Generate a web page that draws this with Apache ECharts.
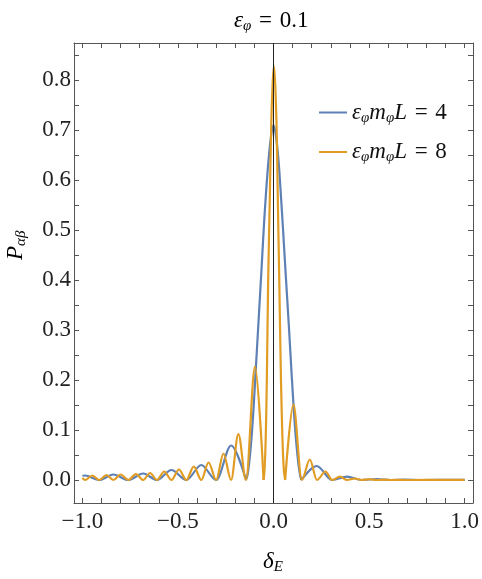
<!DOCTYPE html>
<html>
<head>
<meta charset="utf-8">
<script src="https://cdn.jsdelivr.net/npm/echarts@6/dist/echarts.min.js"></script>
<style>
  html, body { margin: 0; padding: 0; background: #fff; }
  #chart { width: 482px; height: 579px; }
</style>
</head>
<body>
<div id="chart"></div>
<script>
// tick positions
const xLabelValues = [-1, -0.5, 0, 0.5, 1]
const xTickValues = [-1, -0.9, -0.8, -0.7, -0.6, -0.5, -0.4, -0.3, -0.2, -0.1, 0, 0.1, 0.2, 0.3, 0.4, 0.5, 0.6, 0.7, 0.8, 0.9, 1]
const yLabelValues = [0, 0.1, 0.2, 0.3, 0.4, 0.5, 0.6, 0.7, 0.8]
const yTickValues = [0, 0.05, 0.1, 0.15, 0.2, 0.25, 0.3, 0.35, 0.4, 0.45, 0.5, 0.55, 0.6, 0.65, 0.7, 0.75, 0.8, 0.85]

// eps m L = 4 (blue): wave extrema left / right, dense points in the central lobe
const blueLeft = [
  [-1.0, 0.0085], [-0.986, 0.009], [-0.912, 0], [-0.838, 0.011], [-0.760, 0],
  [-0.682, 0.013], [-0.610, 0], [-0.534, 0.020], [-0.456, 0], [-0.378, 0.030],
  [-0.300, 0], [-0.222, 0.069], [-0.144, 0]
]
const blueCore = [
  [-0.144, 0], [-0.136, 0.01], [-0.127, 0.035], [-0.116, 0.08], [-0.105, 0.14],
  [-0.093, 0.22], [-0.078, 0.32], [-0.063, 0.42], [-0.050, 0.51], [-0.040, 0.57],
  [-0.026, 0.64], [-0.012, 0.69], [0, 0.71], [0.012, 0.69], [0.026, 0.64],
  [0.038, 0.573], [0.050, 0.50], [0.064, 0.41], [0.080, 0.31], [0.095, 0.21],
  [0.108, 0.13], [0.120, 0.07], [0.131, 0.03], [0.140, 0.008], [0.146, 0]
]
const blueRight = [
  [0.146, 0], [0.226, 0.028], [0.307, 0], [0.385, 0.0067], [0.460, 0],
  [0.540, 0.002], [0.615, 0], [0.690, 0.0008], [0.770, 0], [1.0, 0.0002]
]

// eps m L = 8 (orange)
const orangeLeft = [
  [-1.0, 0.004], [-0.986, 0], [-0.948, 0.009], [-0.912, 0], [-0.874, 0.010],
  [-0.838, 0], [-0.800, 0.011], [-0.760, 0], [-0.720, 0.012], [-0.682, 0],
  [-0.646, 0.014], [-0.610, 0], [-0.572, 0.017], [-0.534, 0], [-0.495, 0.021],
  [-0.456, 0], [-0.417, 0.027], [-0.378, 0], [-0.340, 0.035], [-0.300, 0],
  [-0.262, 0.053], [-0.222, 0], [-0.184, 0.092], [-0.144, 0], [-0.097, 0.227],
  [-0.052, 0]
]
const orangeCore = [
  [-0.052, 0], [-0.047, 0.02], [-0.041, 0.08], [-0.035, 0.2], [-0.028, 0.4],
  [-0.019, 0.573], [-0.012, 0.707], [-0.005, 0.79], [0.002, 0.828], [0.009, 0.79],
  [0.016, 0.707], [0.022, 0.573], [0.030, 0.40], [0.039, 0.2], [0.047, 0.08],
  [0.054, 0.02], [0.061, 0]
]
const orangeRight = [
  [0.061, 0], [0.104, 0.151], [0.148, 0], [0.190, 0.041], [0.227, 0],
  [0.272, 0.017], [0.307, 0], [0.347, 0.0067], [0.385, 0], [0.425, 0.003],
  [0.460, 0], [0.500, 0.0015], [0.540, 0], [0.580, 0.0008], [0.615, 0],
  [0.655, 0.0004], [0.690, 0], [1.0, 0.0002]
]

const BLUE = '#5E81B5'
const ORANGE = '#E19C24'
const FONT = '"Liberation Serif", "DejaVu Serif", "Times New Roman", serif'
const EQ = '\u2004=\u2004'

const chart = echarts.init(document.getElementById('chart'))

const rich = {
  i: { fontFamily: FONT, fontStyle: 'italic', fontSize: 23, lineHeight: 26, color: '#111' },
  s: { fontFamily: FONT, fontStyle: 'italic', fontSize: 15, lineHeight: 12, verticalAlign: 'bottom', color: '#111' },
  r: { fontFamily: FONT, fontSize: 23, lineHeight: 26, color: '#111' }
}

function fmt(v) {
  const s = Math.abs(v).toFixed(1)
  return v < 0 ? '\u2212' + s : s
}

function wave(name, color, data) {
  return {
    name: name, type: 'line', data: data, symbol: 'none',
    smooth: 0.33, smoothMonotone: 'x',
    lineStyle: { color: color, width: 2.2 }, itemStyle: { color: color },
    z: color === ORANGE ? 3 : 2, silent: true
  }
}

function core(name, color, data) {
  return {
    name: name, type: 'line', data: data, symbol: 'none',
    smooth: 0.3,
    lineStyle: { color: color, width: 2.2 }, itemStyle: { color: color },
    z: color === ORANGE ? 3 : 2, silent: true
  }
}

function xAx(pos, labels) {
  return {
    type: 'value', position: pos, min: -1.044, max: 1.044,
    axisLine: { show: true, onZero: false, lineStyle: { color: '#555', width: 1 } },
    axisTick: { show: true, inside: true, length: 5, customValues: xTickValues, lineStyle: { color: '#555' } },
    axisLabel: {
      show: labels, customValues: xLabelValues, formatter: fmt, margin: 7,
      fontFamily: FONT, fontSize: 23, color: '#222'
    },
    splitLine: { show: false }
  }
}

function yAx(pos, labels) {
  return {
    type: 'value', position: pos, min: -0.046, max: 0.874,
    axisLine: { show: true, onZero: false, lineStyle: { color: '#555', width: 1 } },
    axisTick: { show: true, inside: true, length: 5, customValues: yTickValues, lineStyle: { color: '#555' } },
    axisLabel: {
      show: labels, customValues: yLabelValues, formatter: fmt, margin: 3,
      fontFamily: FONT, fontSize: 23, color: '#222'
    },
    splitLine: { show: false }
  }
}

const series = [
  wave('L4', BLUE, blueLeft), core('L4', BLUE, blueCore), wave('L4', BLUE, blueRight),
  wave('L8', ORANGE, orangeLeft), core('L8', ORANGE, orangeCore), wave('L8', ORANGE, orangeRight)
]
// vertical axis at delta = 0
series[0].markLine = {
  silent: true, symbol: 'none', label: { show: false },
  lineStyle: { color: '#222', width: 1, type: 'solid' },
  data: [{ xAxis: 0 }], z: 10
}

chart.setOption({
  animation: false,
  grid: { left: 74, right: 7, top: 43, bottom: 76 },
  xAxis: [xAx('bottom', true), xAx('top', false)],
  yAxis: [yAx('left', true), yAx('right', false)],
  legend: {
    data: ['L4', 'L8'], orient: 'vertical', left: 319, top: 101, padding: 0,
    icon: 'path://M0,0L28,0L28,2L0,2Z', itemWidth: 28, itemHeight: 2, itemGap: 15,
    formatter: name => '{i|ε}{s|φ}{i|m}{s|φ}{i|L}{r|' + EQ + (name === 'L4' ? '4' : '8') + '}',
    textStyle: { fontFamily: FONT, rich: rich }
  },
  graphic: [
    {
      type: 'text', x: 234, y: 8,
      style: { text: '{i|ε}{s|φ}{r|' + EQ + '0.1}', rich: rich }
    },
    {
      type: 'text', x: 263, y: 549,
      style: { text: '{i|δ}{s|E}', rich: rich }
    },
    {
      type: 'text', x: 3, y: 260, rotation: Math.PI / 2,
      style: { text: '{i|P}{s|αβ}', rich: rich }
    }
  ],
  series: series
})
</script>
</body>
</html>
